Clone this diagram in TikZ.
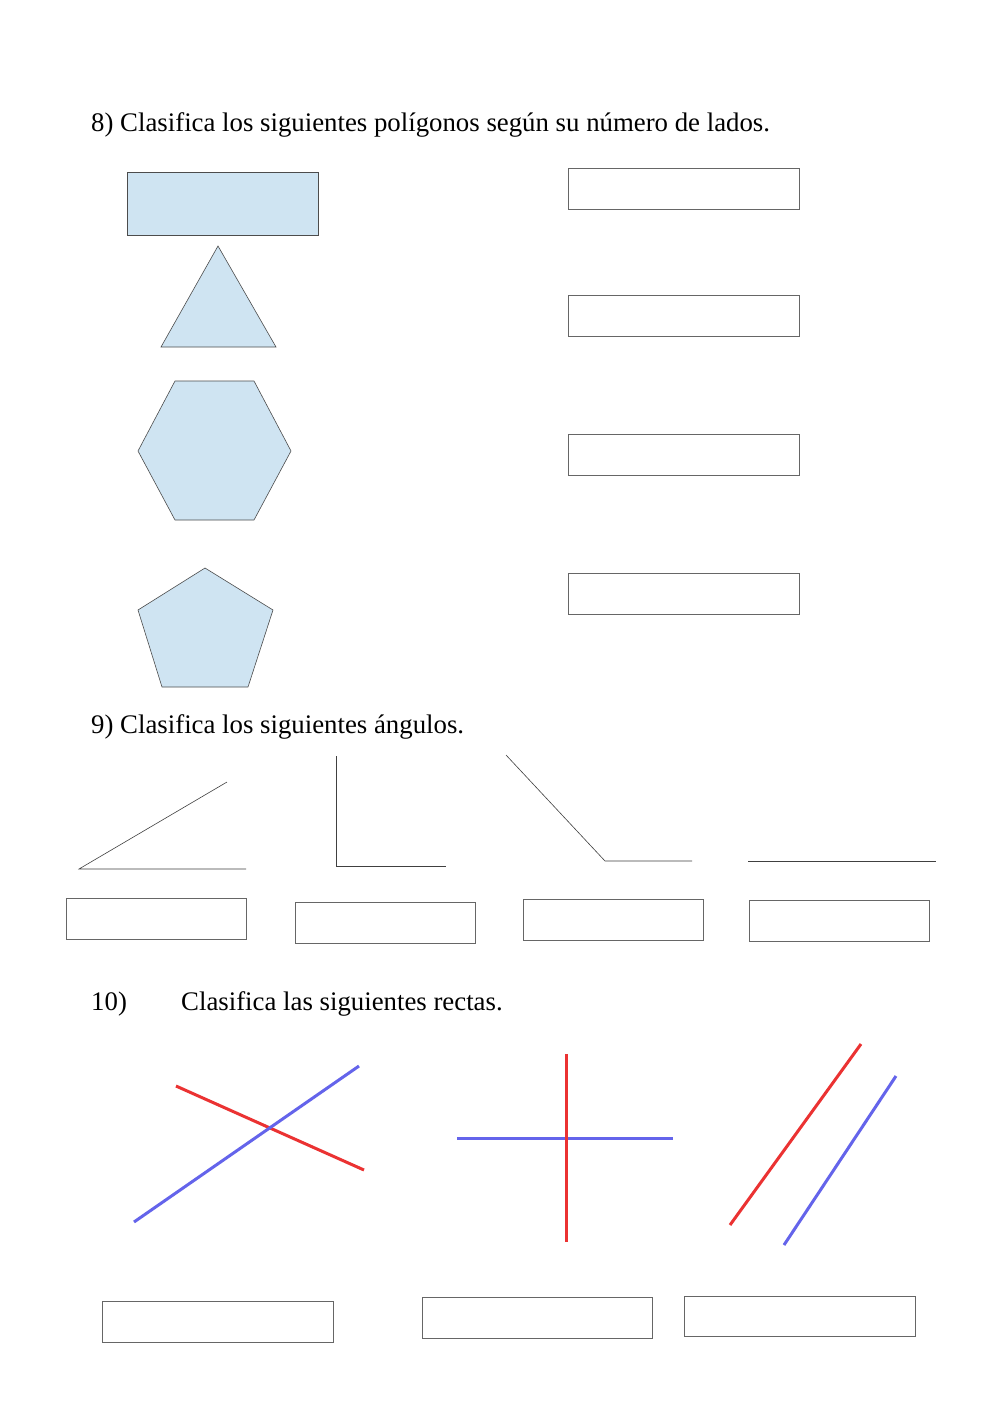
\documentclass[tikz,border=0pt]{standalone}
\usepackage{fontspec}
\setmainfont{Liberation Serif}
\definecolor{fillb}{RGB}{207,228,242}
\definecolor{lred}{RGB}{235,50,50}
\definecolor{lblue}{RGB}{100,100,235}
\begin{document}
\begin{tikzpicture}[x=1pt,y=-1pt,
  shp/.style={fill=fillb,draw=black!70,line width=0.6pt},
  ansbox/.style={draw=black!60,line width=0.8pt},
  ang/.style={draw=black!75,line width=0.6pt},
  rl/.style={lred,line width=3pt},
  bl/.style={lblue,line width=3pt},
  ttl/.style={anchor=base west,inner sep=0pt,font=\fontsize{26.8}{30}\selectfont}]
\useasboundingbox[fill=white] (0,0) rectangle (1000,1413);
\node[ttl] (t8) at (91,131) {8) Clasifica los siguientes polígonos según su número de lados.};
\draw[shp] (127,172) rectangle (318,235);
\draw[shp] (161,347) -- (276,347) -- (218,246) -- cycle;
\draw[shp] (175,381) -- (254,381) -- (291,451) -- (254,520) -- (175,520) -- (138,451) -- cycle;
\draw[shp] (205,568) -- (273,610) -- (248,687) -- (162,687) -- (138,610) -- cycle;
\foreach \y in {168,295,434,573} \draw[ansbox] (568,\y) rectangle (799,\y+41);
\node[ttl] (t9) at (91,733) {9) Clasifica los siguientes ángulos.};
\draw[ang] (227,782) -- (79,869) -- (246,869);
\draw[ang] (336,756) -- (336,866) -- (446,866);
\draw[ang] (506,755) -- (605,861) -- (692,861);
\draw[ang] (748,861) -- (936,861);
\draw[ansbox] (66,898) rectangle (246,939);
\draw[ansbox] (295,902) rectangle (475,943);
\draw[ansbox] (523,899) rectangle (703,940);
\draw[ansbox] (749,900) rectangle (929,941);
\node[ttl] (t10) at (91,1010) {10)};
\node[ttl] (t10b) at (181,1010) {Clasifica las siguientes rectas.};
\draw[rl] (176,1086) -- (364,1170);
\draw[bl] (134,1222) -- (359,1066);
\draw[bl] (457,1138) -- (673,1138);
\draw[rl] (566,1054) -- (566,1242);
\draw[rl] (730,1225) -- (861,1044);
\draw[bl] (784,1245) -- (896,1076);
\draw[ansbox] (102,1301) rectangle (333,1342);
\draw[ansbox] (422,1297) rectangle (652,1338);
\draw[ansbox] (684,1296) rectangle (915,1336);
\end{tikzpicture}
\end{document}
